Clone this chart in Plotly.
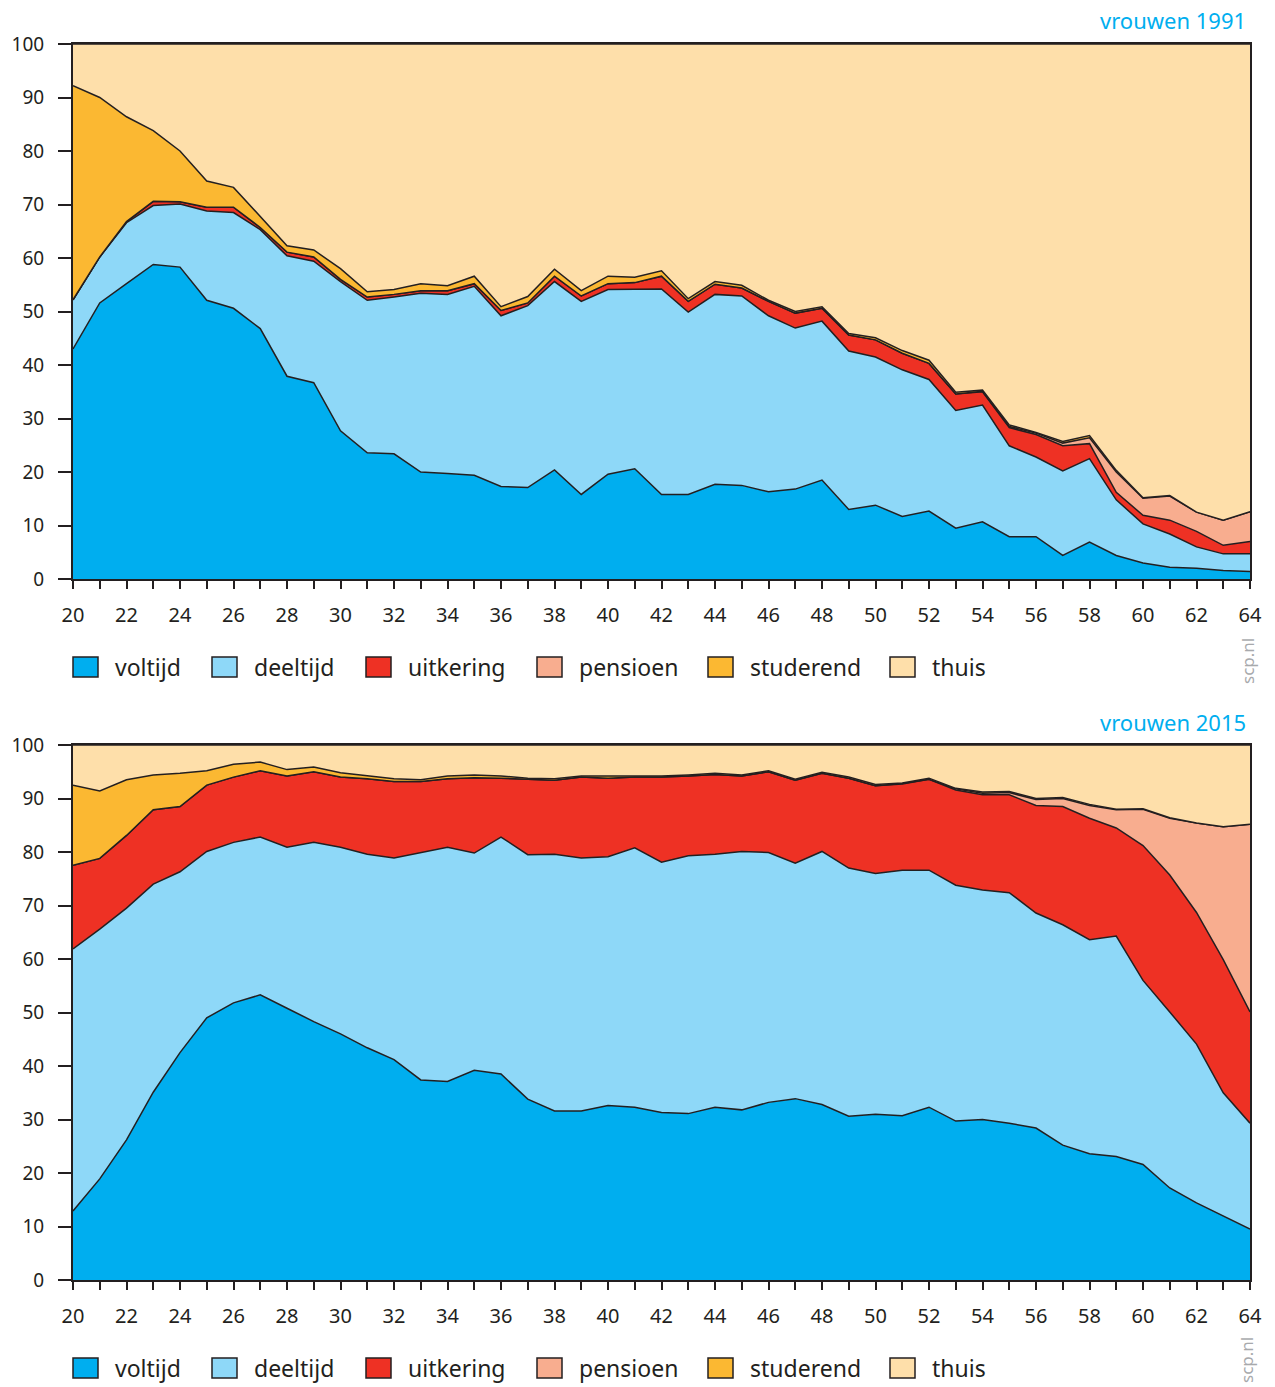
import plotly.graph_objects as go

ages = list(range(20, 65))
categories = ['voltijd', 'deeltijd', 'uitkering', 'pensioen', 'studerend', 'thuis']
colors = ['#00AEEF', '#8ED8F8', '#EE3124', '#F8AD8F', '#FBB832', '#FEDFAA']

# vrouwen 1991 (% per leeftijd)
voltijd_1991 = [43.0, 51.6, 55.2, 58.8, 58.3, 52.1, 50.6, 46.8, 37.9, 36.7,
                27.7, 23.6, 23.4, 20.0, 19.7, 19.4, 17.3, 17.1, 20.4, 15.8,
                19.6, 20.6, 15.8, 15.8, 17.7, 17.5, 16.3, 16.8, 18.5, 13.0,
                13.8, 11.7, 12.7, 9.5, 10.7, 7.9, 7.9, 4.4, 6.9, 4.4,
                3.0, 2.2, 2.0, 1.6, 1.4]
deeltijd_1991 = [9.2, 8.6, 11.4, 11.0, 11.8, 16.7, 17.9, 18.5, 22.5, 22.7,
                 27.9, 28.5, 29.3, 33.4, 33.5, 35.3, 31.9, 34.0, 35.2, 36.1,
                 34.5, 33.6, 38.4, 34.1, 35.5, 35.4, 32.9, 30.1, 29.7, 29.6,
                 27.7, 27.4, 24.6, 22.0, 21.8, 17.0, 14.9, 15.8, 15.6, 10.4,
                 7.3, 6.2, 4.0, 3.1, 3.3]
uitkering_1991 = [0.0, 0.0, 0.2, 0.8, 0.4, 0.7, 1.0, 0.4, 0.7, 0.8,
                  0.4, 0.6, 0.5, 0.5, 0.7, 0.5, 1.0, 0.5, 1.0, 1.0,
                  1.1, 1.2, 2.4, 2.0, 1.9, 1.5, 2.7, 2.8, 2.4, 3.0,
                  3.2, 3.1, 3.0, 3.1, 2.5, 3.4, 4.2, 4.7, 2.8, 1.4,
                  1.6, 2.6, 2.9, 1.6, 2.3]
pensioen_1991 = [0.0, 0.0, 0.0, 0.0, 0.0, 0.0, 0.0, 0.0, 0.0, 0.0,
                 0.0, 0.0, 0.0, 0.0, 0.0, 0.0, 0.0, 0.0, 0.0, 0.0,
                 0.0, 0.0, 0.0, 0.0, 0.0, 0.0, 0.0, 0.0, 0.0, 0.0,
                 0.0, 0.0, 0.0, 0.0, 0.1, 0.2, 0.3, 0.5, 1.1, 3.8,
                 3.2, 4.5, 3.6, 4.7, 5.6]
studerend_1991 = [40.0, 29.8, 19.6, 13.2, 9.5, 4.9, 3.7, 2.1, 1.2, 1.3,
                  2.0, 1.0, 0.9, 1.3, 0.9, 1.4, 0.7, 1.2, 1.3, 1.0,
                  1.4, 1.0, 1.0, 0.5, 0.5, 0.5, 0.2, 0.3, 0.3, 0.3,
                  0.4, 0.5, 0.6, 0.3, 0.2, 0.3, 0.1, 0.3, 0.4, 0.3,
                  0.1, 0.1, 0.0, 0.0, 0.0]
thuis_1991 = [7.8, 10.0, 13.6, 16.2, 20.0, 25.6, 26.8, 32.2, 37.7, 38.5,
              42.0, 46.3, 45.9, 44.8, 45.2, 43.4, 49.1, 47.2, 42.1, 46.1,
              43.4, 43.6, 42.4, 47.6, 44.4, 45.1, 47.9, 50.0, 49.1, 54.1,
              54.9, 57.3, 59.1, 65.1, 64.7, 71.2, 72.6, 74.3, 73.2, 79.7,
              84.8, 84.4, 87.5, 89.0, 87.4]

# vrouwen 2015
voltijd_2015 = [12.9, 18.9, 26.2, 35.1, 42.5, 49.0, 51.8, 53.3, 50.8, 48.3,
                46.0, 43.4, 41.2, 37.4, 37.1, 39.2, 38.5, 33.8, 31.6, 31.6,
                32.6, 32.3, 31.3, 31.1, 32.3, 31.8, 33.2, 33.9, 32.8, 30.6,
                31.0, 30.7, 32.3, 29.7, 30.0, 29.3, 28.4, 25.2, 23.6, 23.1,
                21.6, 17.2, 14.4, 11.9, 9.5]
deeltijd_2015 = [49.0, 46.7, 43.3, 38.9, 33.8, 31.1, 30.0, 29.5, 30.1, 33.5,
                 34.9, 36.2, 37.7, 42.5, 43.8, 40.6, 44.3, 45.7, 48.0, 47.3,
                 46.5, 48.5, 46.8, 48.2, 47.3, 48.3, 46.7, 44.0, 47.3, 46.4,
                 45.0, 45.9, 44.3, 44.1, 42.9, 43.1, 40.2, 41.2, 40.0, 41.2,
                 34.4, 32.9, 29.7, 23.1, 19.8]
uitkering_2015 = [15.6, 13.2, 13.6, 13.9, 12.2, 12.4, 12.2, 12.4, 13.3, 13.2,
                  13.1, 14.1, 14.3, 13.3, 12.8, 14.1, 11.0, 14.1, 13.8, 15.1,
                  14.7, 13.2, 15.9, 14.9, 14.9, 14.1, 15.1, 15.5, 14.6, 16.8,
                  16.4, 16.1, 17.0, 17.8, 17.8, 18.3, 20.1, 22.1, 22.7, 20.2,
                  25.2, 25.6, 24.6, 24.9, 20.8]
pensioen_2015 = [0.0, 0.0, 0.0, 0.0, 0.0, 0.0, 0.0, 0.0, 0.0, 0.0,
                 0.0, 0.0, 0.0, 0.0, 0.0, 0.0, 0.0, 0.0, 0.0, 0.0,
                 0.0, 0.0, 0.0, 0.0, 0.0, 0.0, 0.0, 0.0, 0.0, 0.0,
                 0.0, 0.1, 0.0, 0.2, 0.3, 0.4, 1.1, 1.5, 2.4, 3.4,
                 6.8, 10.6, 16.7, 24.8, 35.1]
studerend_2015 = [15.0, 12.6, 10.4, 6.5, 6.2, 2.7, 2.4, 1.6, 1.2, 0.9,
                  0.8, 0.5, 0.5, 0.3, 0.5, 0.5, 0.4, 0.2, 0.3, 0.2,
                  0.4, 0.2, 0.2, 0.2, 0.2, 0.2, 0.2, 0.2, 0.2, 0.2,
                  0.2, 0.1, 0.2, 0.1, 0.2, 0.2, 0.2, 0.2, 0.2, 0.1,
                  0.1, 0.1, 0.0, 0.0, 0.0]
thuis_2015 = [7.5, 8.6, 6.5, 5.6, 5.3, 4.8, 3.6, 3.2, 4.6, 4.1,
              5.2, 5.8, 6.3, 6.5, 5.8, 5.6, 5.8, 6.2, 6.3, 5.8,
              5.8, 5.8, 5.8, 5.6, 5.3, 5.6, 4.8, 6.4, 5.1, 6.0,
              7.4, 7.1, 6.2, 8.1, 8.8, 8.7, 10.0, 9.8, 11.1, 12.0,
              11.9, 13.6, 14.6, 15.3, 14.8]

series_1991 = [voltijd_1991, deeltijd_1991, uitkering_1991, pensioen_1991, studerend_1991, thuis_1991]
series_2015 = [voltijd_2015, deeltijd_2015, uitkering_2015, pensioen_2015, studerend_2015, thuis_2015]

INK = '#231F20'
FONT = 'Noto Sans'
W, H = 1275, 1387
ML, MR, MT, MB = 73, 25, 44, 107
plot_h = H - MT - MB
plot_w = W - ML - MR


def py(ypix):
    # pixel row -> paper y
    return (H - MB - ypix) / plot_h


def px(xpix):
    return (xpix - ML) / plot_w


fig = go.Figure()

panels = [('1991', series_1991, 'x', 'y'), ('2015', series_2015, 'x2', 'y2')]
for year, series, xa, ya in panels:
    for name, vals, col in zip(categories, series, colors):
        fig.add_trace(go.Scatter(
            x=ages, y=vals, name=name, xaxis=xa, yaxis=ya,
            stackgroup='s' + year, mode='lines',
            line=dict(color=INK, width=1.5), fillcolor=col,
            showlegend=False, hoverinfo='x+y+name'))

axis_common = dict(showline=True, linewidth=2, linecolor=INK, mirror=True,
                   showgrid=False, zeroline=False, ticks='outside',
                   tickcolor=INK, tickwidth=1.5,
                   tickfont=dict(family=FONT, size=20, color=INK))
x_common = dict(axis_common, range=[20, 64], tick0=20, dtick=2, ticklen=8,
                ticklabelstandoff=9,
                minor=dict(dtick=1, tick0=20, ticks='outside', ticklen=8,
                           tickwidth=1.5, tickcolor=INK))
y_common = dict(axis_common, range=[0, 100], dtick=10, ticklen=13,
                ticklabelstandoff=10)
y_common['tickfont'] = dict(family=FONT, size=19, color=INK)

fig.update_layout(
    width=W, height=H, autosize=False,
    margin=dict(l=ML, r=MR, t=MT, b=MB),
    paper_bgcolor='white', plot_bgcolor='white',
    xaxis=dict(x_common, domain=[0, 1], anchor='y'),
    yaxis=dict(y_common, domain=[py(579), 1], anchor='x'),
    xaxis2=dict(x_common, domain=[0, 1], anchor='y2'),
    yaxis2=dict(y_common, domain=[0, py(745)], anchor='x2'),
)

# panel titles, source tag and hand-made legend rows
titles = [('vrouwen 1991', 20, 661), ('vrouwen 2015', 722, 1360)]
legend_rows = [667, 1368]
legend_x = [73, 212, 366, 537, 708, 890]
annotations = []
shapes = []
for (title, ty, sy), ly in zip(titles, legend_rows):
    annotations.append(dict(text=title, xref='paper', yref='paper', x=px(1248), y=py(ty),
                            xanchor='right', yanchor='middle', showarrow=False,
                            font=dict(family=FONT, size=22, color='#00AEEF')))
    annotations.append(dict(text='scp.nl', xref='paper', yref='paper', x=px(1247), y=py(sy),
                            xanchor='center', yanchor='middle', textangle=-90, showarrow=False,
                            font=dict(family=FONT, size=17, color='#A7A9AC')))
    for name, col, lx in zip(categories, colors, legend_x):
        shapes.append(dict(type='rect', xref='paper', yref='paper',
                           x0=px(lx), x1=px(lx + 25), y0=py(ly + 10), y1=py(ly - 10),
                           fillcolor=col, line=dict(color=INK, width=1.5)))
        annotations.append(dict(text=name, xref='paper', yref='paper', x=px(lx + 40), y=py(ly),
                                xanchor='left', yanchor='middle', showarrow=False,
                                font=dict(family=FONT, size=23, color=INK)))

fig.update_layout(annotations=annotations, shapes=shapes)

# drop the default page margin so the figure sits at the window's corner
fig.write_html("out.html", config={'displayModeBar': False},
               post_script="document.body.style.margin='0';")
